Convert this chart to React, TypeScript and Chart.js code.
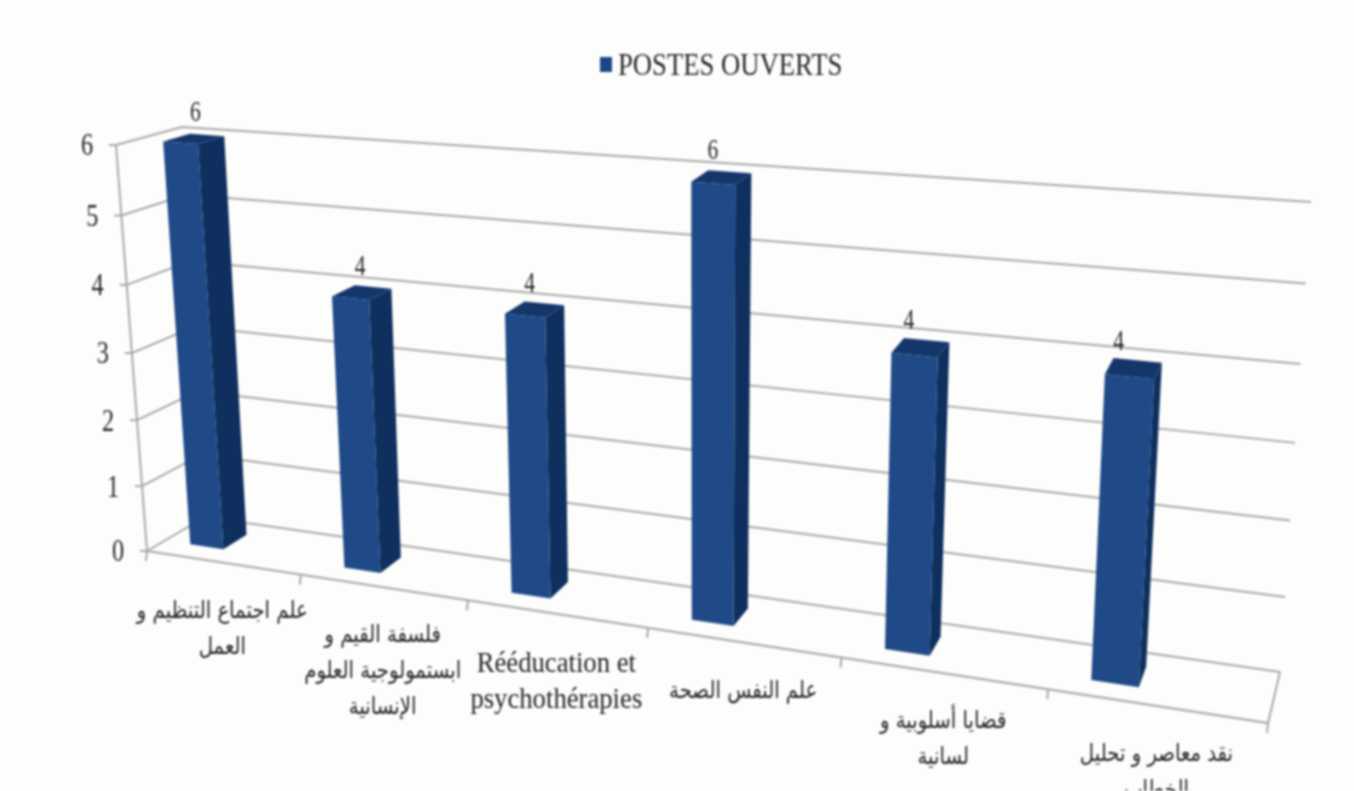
import React, { useEffect, useRef } from "react";
import { Chart, registerables } from "chart.js";

Chart.register(...registerables);

const categories: string[][] = [
  ["علم اجتماع التنظيم و", "العمل"],
  ["فلسفة القيم و", "ابستمولوجية العلوم", "الإنسانية"],
  ["Rééducation et", "psychothérapies"],
  ["علم النفس الصحة"],
  ["قضايا أسلوبية و", "لسانية"],
  ["نقد معاصر و تحليل", "الخطاب"],
];
const seriesLabel = "POSTES OUVERTS";
const seriesValues = [6, 4, 4, 6, 4, 4];
const valueTicks = [0, 1, 2, 3, 4, 5, 6];

type P = [number, number];
// corners of the drawn 3D box (projection parameters)
const FL: P = [147, 551], FR: P = [1268, 723], BL: P = [205, 517], BR: P = [1280, 672];
const TFL: P = [116, 145], TFR: P = [1298, 240], TBL: P = [182, 127], TBR: P = [1311, 202];
const DEPTH_FRONT = 0.31, DEPTH_BACK = 0.725;

const bilerp = (a: P, b: P, c: P, e: P, s: number, d: number): P => {
  const x0 = a[0] + (b[0] - a[0]) * s, y0 = a[1] + (b[1] - a[1]) * s;
  const x1 = c[0] + (e[0] - c[0]) * s, y1 = c[1] + (e[1] - c[1]) * s;
  return [x0 + (x1 - x0) * d, y0 + (y1 - y0) * d];
};
const warpX = (t: number) => 0.788 * t + 0.212 * t * t;
const warpY = (r: number) => 0.95 * r + 0.05 * r * r;
const project = (t: number, r: number, d: number): P => {
  const s = warpX(t), h = warpY(r);
  const lo = bilerp(FL, FR, BL, BR, s, d), hi = bilerp(TFL, TFR, TBL, TBR, s, d);
  return [lo[0] + (hi[0] - lo[0]) * h, lo[1] + (hi[1] - lo[1]) * h];
};
const BAR_SHIFT = -0.036;

const SERIF = '"Liberation Serif", "DejaVu Serif", serif';
const ARABIC = '"DejaVu Sans", "Liberation Serif", sans-serif';
const INK = "#262626", GRID = "#a8a8a8";

function text(ctx: CanvasRenderingContext2D, s: string, x: number, y: number, font: string, sx: number, align: CanvasTextAlign = "center") {
  ctx.save();
  ctx.translate(x, y);
  ctx.scale(sx, 1);
  ctx.font = font;
  ctx.fillStyle = INK;
  ctx.textAlign = align;
  ctx.textBaseline = "middle";
  ctx.fillText(s, 0, 0);
  ctx.restore();
}
function line(ctx: CanvasRenderingContext2D, pts: P[]) {
  ctx.beginPath();
  pts.forEach((p, i) => (i ? ctx.lineTo(p[0], p[1]) : ctx.moveTo(p[0], p[1])));
  ctx.stroke();
}
function poly(ctx: CanvasRenderingContext2D, pts: P[], fill: string) {
  ctx.beginPath();
  pts.forEach((p, i) => (i ? ctx.lineTo(p[0], p[1]) : ctx.moveTo(p[0], p[1])));
  ctx.closePath();
  ctx.fillStyle = fill;
  ctx.fill();
}

const perspective3D = {
  id: "perspective3D",
  beforeDatasetsDraw(chart: any) {
    const { ctx, chartArea: a, scales } = chart;
    const X = (px: number) => (px - a.left) / (a.right - a.left);
    const R = (px: number) => (a.bottom - px) / (a.bottom - a.top);
    ctx.save();
    ctx.fillStyle = "#fdfdfc";
    ctx.fillRect(0, 0, chart.width, chart.height);

    // walls and grid
    ctx.strokeStyle = GRID;
    ctx.lineWidth = 2;
    scales.y.ticks.forEach((tk: any) => {
      const r = R(scales.y.getPixelForValue(tk.value));
      line(ctx, [project(0, r, 0), project(0, r, 1), project(1, r, 1)]);
      const f = project(0, r, 0);
      line(ctx, [[f[0] - 7, f[1]], f]);
      text(ctx, String(tk.value), f[0] - 29, f[1] + 2, `32px ${SERIF}`, 0.76);
    });
    line(ctx, [project(0, 0, 0), project(0, 1, 0)]);
    line(ctx, [project(0, 0, 0), project(1, 0, 0), project(1, 0, 1)]);

    // category ticks and labels
    const step = scales.x.getPixelForValue(1) - scales.x.getPixelForValue(0);
    (chart.data.labels as string[][]).forEach((lines, i) => {
      const edge = scales.x.getPixelForValue(i) - step / 2;
      [edge, edge + step].forEach((e, k) => {
        if (k === 1 || i === 0) {
          const p = project(X(e), 0, 0);
          line(ctx, [p, [p[0] - 1, p[1] + 10]]);
        }
      });
      const mid = project(X(scales.x.getPixelForValue(i)), 0, 0);
      lines.forEach((ln, j) => {
        const latin = /^[\u0000-\u024f ]+$/.test(ln);
        const y = mid[1] + 49 + j * 36;
        if (latin) text(ctx, ln, mid[0], y + 2, `29px ${SERIF}`, 0.92);
        else text(ctx, ln, mid[0], y, `24px ${ARABIC}`, 0.82);
      });
    });

    // bars
    const meta = chart.getDatasetMeta(0);
    meta.data.forEach((bar: any, i: number) => {
      const { x, y, base, width } = bar.getProps(["x", "y", "base", "width"], true);
      const t0 = BAR_SHIFT + X(x - width / 2);
      const t1 = BAR_SHIFT + X(x + width / 2);
      const rTop = R(y), rBase = R(base);
      const F = DEPTH_FRONT, B = DEPTH_BACK;
      poly(ctx, [project(t1, rBase, F), project(t1, rBase, B), project(t1, rTop, B), project(t1, rTop, F)], "#0f2f5e");
      poly(ctx, [project(t0, rTop, F), project(t0, rTop, B), project(t1, rTop, B), project(t1, rTop, F)], "#14366b");
      poly(ctx, [project(t0, rBase, F), project(t1, rBase, F), project(t1, rTop, F), project(t0, rTop, F)], "#1f4a87");
      const tm = (t0 + t1) / 2;
      const lab = project(tm, rTop, 0.42);
      text(ctx, String(chart.data.datasets[0].data[i]), lab[0] + 9 - 25 * tm, lab[1] - 27 - 4 * tm, `30px ${SERIF}`, 0.72);
    });

    // legend
    ctx.fillStyle = "#1c4587";
    ctx.fillRect(600, 57, 12, 15);
    text(ctx, chart.data.datasets[0].label, 618, 67, `31px ${SERIF}`, 0.86, "left");
    ctx.restore();
    return false;
  },
};

export default function App() {
  const ref = useRef<HTMLCanvasElement>(null);
  useEffect(() => {
    const chart = new Chart(ref.current!, {
      type: "bar",
      data: {
        labels: categories as any,
        datasets: [{ label: seriesLabel, data: seriesValues, backgroundColor: "#1f4a87" }],
      },
      options: {
        responsive: false,
        animation: false,
        devicePixelRatio: 1,
        layout: { padding: 0 },
        datasets: { bar: { categoryPercentage: 1, barPercentage: 0.222 } },
        plugins: { legend: { display: false }, title: { display: false }, tooltip: { enabled: false } },
        scales: {
          x: { display: false },
          y: { display: false, min: valueTicks[0], max: valueTicks[valueTicks.length - 1], ticks: { stepSize: 1 } },
        },
      },
      plugins: [perspective3D],
    } as any);
    return () => chart.destroy();
  }, []);
  return (
    <div style={{ position: "fixed", left: 0, top: 0, width: 1354, height: 791, overflow: "hidden", background: "#fdfdfc" }}>
      <canvas ref={ref} width={1354} height={791} style={{ display: "block", filter: "blur(0.8px)" }} />
    </div>
  );
}
